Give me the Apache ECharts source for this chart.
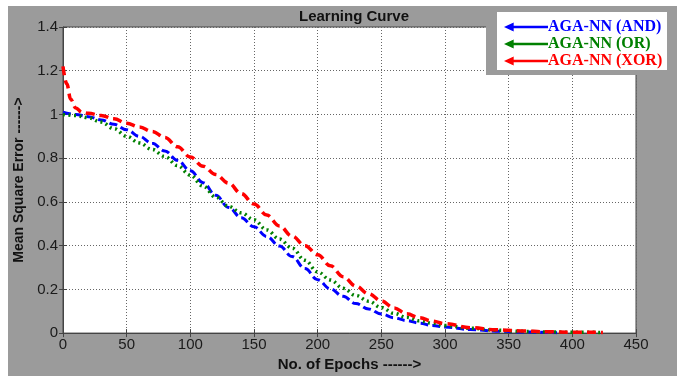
<!doctype html>
<html lang="en">
  <head>
    <meta charset="UTF-8" />
    <title>Learning Curve</title>
    <script src="https://cdn.jsdelivr.net/npm/echarts@6/dist/echarts.min.js"></script>
    <style>
      html, body { margin: 0; padding: 0; background: #fff; }
    </style>
  </head>
  <body>
    <div id="chart" style="width: 686px; height: 377px"></div>
    <script>
      const xTicks = [0, 50, 100, 150, 200, 250, 300, 350, 400, 450];
      const yTicks = [0, 0.2, 0.4, 0.6, 0.8, 1, 1.2, 1.4];

      const andEpochs = [0, 10, 20, 30, 40, 50, 60, 70, 80, 90, 100, 110, 120, 130, 140, 150, 160, 170, 180, 190, 200, 210, 220, 230, 240, 250, 260, 270, 280, 290, 300, 320, 340, 360, 388];
      const andMse = [1.01, 1.0, 0.99, 0.975, 0.955, 0.93, 0.9, 0.868, 0.833, 0.79, 0.742, 0.688, 0.63, 0.575, 0.528, 0.486, 0.442, 0.398, 0.35, 0.295, 0.244, 0.202, 0.168, 0.135, 0.11, 0.087, 0.07, 0.057, 0.045, 0.035, 0.028, 0.016, 0.009, 0.005, 0.002];

      const orEpochs = [0, 10, 20, 30, 40, 50, 60, 70, 80, 90, 100, 110, 120, 130, 140, 150, 160, 170, 180, 190, 200, 210, 220, 230, 240, 250, 260, 270, 280, 290, 300, 320, 340, 360, 380, 400, 424];
      const orMse = [1.0, 0.995, 0.985, 0.965, 0.935, 0.9, 0.87, 0.84, 0.808, 0.766, 0.722, 0.672, 0.622, 0.58, 0.55, 0.518, 0.472, 0.43, 0.388, 0.333, 0.28, 0.243, 0.205, 0.172, 0.146, 0.117, 0.09, 0.072, 0.056, 0.045, 0.035, 0.022, 0.013, 0.008, 0.005, 0.004, 0.003];

      const xorEpochs = [0, 3, 6, 10, 15, 20, 30, 40, 50, 60, 70, 80, 90, 100, 110, 120, 130, 140, 150, 160, 170, 180, 190, 200, 210, 220, 230, 240, 250, 260, 270, 280, 290, 300, 320, 340, 360, 380, 400, 424];
      const xorMse = [1.22, 1.14, 1.07, 1.03, 1.01, 1.005, 0.995, 0.98, 0.96, 0.943, 0.922, 0.895, 0.852, 0.805, 0.763, 0.725, 0.686, 0.638, 0.59, 0.54, 0.49, 0.443, 0.4, 0.358, 0.308, 0.258, 0.215, 0.18, 0.147, 0.115, 0.088, 0.07, 0.055, 0.043, 0.025, 0.015, 0.01, 0.006, 0.004, 0.003];

      const seriesNames = ['AGA-NN (AND)', 'AGA-NN (OR)', 'AGA-NN (XOR)'];
      const seriesColors = ['#0000ff', '#008000', '#ff0000'];

      const pairs = (xs, ys) => xs.map((x, i) => [x, ys[i]]);

      const chart = echarts.init(document.getElementById('chart'));

      const sans = 'Liberation Sans, Arial, sans-serif';
      const tickFont = { color: '#1a1a1a', fontSize: 15, fontFamily: sans };

      chart.setOption({
        backgroundColor: '#fff',
        animation: false,
        title: {
          text: 'Learning Curve',
          left: 349,
          textAlign: 'center',
          top: 4,
          textStyle: { fontSize: 15, fontWeight: 'bold', color: '#111', fontFamily: sans },
        },
        graphic: [
          {
            type: 'rect',
            z: -10,
            silent: true,
            shape: { x: 8, y: 6, width: 669, height: 370 },
            style: { fill: '#9b9b9b' },
          },
          {
            type: 'rect',
            z: 50,
            silent: true,
            shape: { x: 486, y: 6, width: 191, height: 69 },
            style: { fill: '#9b9b9b' },
          },
          {
            type: 'rect',
            z: 51,
            silent: true,
            shape: { x: 497, y: 12, width: 170, height: 58 },
            style: { fill: '#fff' },
          },
        ],
        legend: {
          z: 60,
          orient: 'vertical',
          left: 499,
          top: 14,
          itemGap: 1,
          itemWidth: 44,
          itemHeight: 9,
          icon: 'path://M0,5 L11,0 L11,3.6 L50,3.6 L50,6.4 L11,6.4 L11,10 Z',
          itemStyle: { borderWidth: 0 },
          data: seriesNames.map((n, i) => ({
            name: n,
            textStyle: { color: seriesColors[i] },
          })),
          textStyle: { fontSize: 16, fontWeight: 'bold', fontFamily: 'Liberation Serif, Times New Roman, serif', padding: [0, 0, 0, -5] },
        },
        grid: {
          left: 63,
          top: 27,
          right: 50,
          bottom: 34,
          show: true,
          backgroundColor: '#fff',
          borderColor: '#444',
          borderWidth: 1,
        },
        xAxis: [
          {
            type: 'value',
            min: xTicks[0],
            max: xTicks[xTicks.length - 1],
            interval: 50,
            name: 'No. of Epochs ------>',
            nameLocation: 'middle',
            nameGap: 22,
            nameTextStyle: { color: '#111', fontSize: 15, fontWeight: 'bold', fontFamily: sans },
            axisLine: { lineStyle: { color: '#444' } },
            axisTick: { inside: true, length: 4, lineStyle: { color: '#444' } },
            axisLabel: Object.assign({ margin: 4 }, tickFont),
            splitLine: { lineStyle: { color: '#666', type: [1, 2], width: 1 } },
          },
          {
            type: 'value',
            position: 'top',
            min: 0,
            max: 450,
            interval: 50,
            axisLine: { show: false },
            axisTick: { inside: true, length: 4, lineStyle: { color: '#444' } },
            axisLabel: { show: false },
            splitLine: { show: false },
          },
        ],
        yAxis: [
          {
            type: 'value',
            min: yTicks[0],
            max: yTicks[yTicks.length - 1],
            interval: 0.2,
            name: 'Mean Square Error ------>',
            nameLocation: 'middle',
            nameGap: 32,
            nameTextStyle: { color: '#111', fontSize: 14, fontWeight: 'bold', fontFamily: sans },
            axisLine: { show: true, lineStyle: { color: '#444' } },
            axisTick: { show: true, inside: true, length: 4, lineStyle: { color: '#444' } },
            axisLabel: Object.assign({ margin: 5 }, tickFont),
            splitLine: { lineStyle: { color: '#666', type: [1, 2], width: 1 } },
          },
          {
            type: 'value',
            position: 'right',
            min: 0,
            max: 1.4,
            interval: 0.2,
            axisLine: { show: false },
            axisTick: { show: true, inside: true, length: 4, lineStyle: { color: '#444' } },
            axisLabel: { show: false },
            splitLine: { show: false },
          },
        ],
        series: [
          {
            name: seriesNames[0],
            type: 'line',
            smooth: 0.4,
            smoothMonotone: 'x',
            showSymbol: false,
            color: seriesColors[0],
            lineStyle: { width: 3, type: [8, 4] },
            data: pairs(andEpochs, andMse),
          },
          {
            name: seriesNames[1],
            type: 'line',
            smooth: 0.4,
            smoothMonotone: 'x',
            showSymbol: false,
            color: seriesColors[1],
            lineStyle: { width: 3.5, type: [2, 3.5] },
            data: pairs(orEpochs, orMse),
          },
          {
            name: seriesNames[2],
            type: 'line',
            smooth: 0.4,
            smoothMonotone: 'x',
            showSymbol: false,
            color: seriesColors[2],
            lineStyle: { width: 3.5, type: [9, 5] },
            data: pairs(xorEpochs, xorMse),
          },
        ],
      });
    </script>
  </body>
</html>
